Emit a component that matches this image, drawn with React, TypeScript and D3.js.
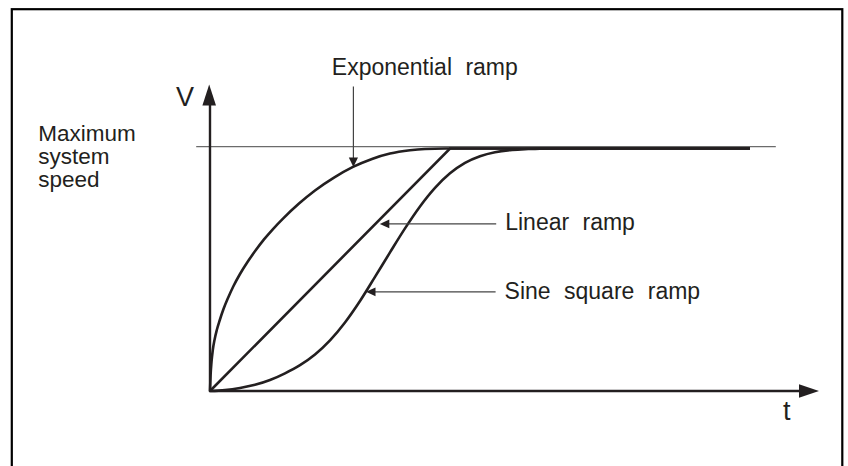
import React from "react";
import * as d3 from "d3";

// time (arbitrary units) and speed (% of maximum system speed)
const linearT = [0, 40, 90];
const linearV = [0, 100, 100];

const expT = [0, 0.1, 0.25, 0.467, 0.75, 1.133, 1.633, 2.25, 3.0, 3.917, 5, 6.25, 7.583, 9, 10.5, 12.167, 14.833, 17.5, 20.667, 23.833, 27, 30, 33.33, 35.83, 39.17, 90];
const expV = [0, 6.6, 11.96, 16.9, 21.03, 25.15, 29.28, 33.8, 38.35, 43.3, 48.25, 53.2, 57.9, 62.5, 66.8, 71.1, 77.3, 82.7, 88.0, 92.4, 95.7, 97.9, 99.26, 99.8, 100, 100];

const sineT = [0, 2.5, 5, 7.5, 10, 12.5, 15, 17.5, 20, 22.5, 25, 27.5, 30, 32.5, 35, 37.5, 40, 42.5, 45, 47.5, 50, 52.5, 55, 58.33, 90];
const sineV = [0, 0.37, 1.24, 2.56, 4.54, 7.3, 10.64, 15.05, 20.87, 28.25, 37.1, 47.05, 57.15, 67.05, 76.1, 83.75, 89.75, 94.06, 96.8, 98.47, 99.34, 99.7, 99.96, 100, 100];

const MAX_V = 100;

// annotation labels: text, arrow tip (t, v), label anchor (t, v)
const annLabels = ["Exponential ramp", "Linear ramp", "Sine square ramp"];
const annTipT = [23.9, 28.3, 26];
const annTipV = [92.4, 68.9, 40.9];
const annLabelT = [20.3, 49.2, 49.1];
const annLabelV = [130.3, 66.4, 37.9];
const annDir = ["down", "left", "left"];

const maxLabel = ["Maximum", "system", "speed"];

const W = 848;
const H = 466;
const INK = "#231f20";
const FONT = "'Liberation Sans', Arial, Helvetica, sans-serif";

export default function App() {
  const x = d3.scaleLinear().domain([0, 100]).range([210, 810]);
  const y = d3.scaleLinear().domain([0, MAX_V]).range([391, 148.5]);

  const line = (ts: number[], vs: number[], curve: d3.CurveFactory) =>
    d3
      .line<number>()
      .x((_, i) => x(ts[i]))
      .y((_, i) => y(vs[i]))
      .curve(curve)(ts) || "";

  const x0 = x(0);
  const y0 = y(0);
  const xEnd = x(101.5);
  const yTop = y(126);

  return (
    <svg
      width={W}
      height={H}
      style={{ position: "absolute", left: 0, top: 0, background: "#fff" }}
      fontFamily={FONT}
    >
      <rect x={0} y={0} width={W} height={H} fill="#fff" />
      {/* frame */}
      <rect x={11.8} y={9.2} width={830.5} height={520} fill="none" stroke="#000" strokeWidth={2.2} />

      {/* maximum speed reference line */}
      <line x1={x(-2.3)} x2={x(94.3)} y1={y(MAX_V) - 1.8} y2={y(MAX_V) - 1.8} stroke="#6b6b6b" strokeWidth={1.3} />

      {/* curves */}
      <path d={line(expT, expV, d3.curveMonotoneX)} fill="none" stroke={INK} strokeWidth={2.6} />
      <path d={line(linearT, linearV, d3.curveLinear)} fill="none" stroke={INK} strokeWidth={2.6} />
      <path d={line(sineT, sineV, d3.curveMonotoneX)} fill="none" stroke={INK} strokeWidth={2.6} />

      {/* axes */}
      <line x1={x0} x2={x0} y1={y0 + 1} y2={yTop + 10} stroke={INK} strokeWidth={2.4} />
      <path d={`M${x0 - 0.8},${yTop - 1} L${x0 + 6},${yTop + 20} L${x0 - 7.6},${yTop + 20} Z`} fill={INK} />
      <line x1={x0 - 1} x2={xEnd - 10} y1={y0} y2={y0} stroke={INK} strokeWidth={2.4} />
      <path d={`M${xEnd},${y0} L${xEnd - 20},${y0 - 6.8} L${xEnd - 20},${y0 + 6.8} Z`} fill={INK} />

      <text x={x0 - 34} y={yTop + 21} fontSize={27} fill={INK}>V</text>
      <text x={xEnd - 36} y={y0 + 29} fontSize={27} fill={INK}>t</text>

      {maxLabel.map((s, i) => (
        <text key={s} x={38.3} y={141 + i * 23} fontSize={22.5} fill={INK}>
          {s}
        </text>
      ))}

      {annLabels.map((lab, i) => {
        const tx = x(annTipT[i]);
        const ty = y(annTipV[i]);
        const lx = x(annLabelT[i]);
        const ly = y(annLabelV[i]);
        let shaft;
        let head;
        if (annDir[i] === "down") {
          shaft = <line x1={tx} x2={tx} y1={ly + 11.5} y2={ty - 8} stroke="#444" strokeWidth={1.2} />;
          head = <path d={`M${tx},${ty} L${tx - 4.6},${ty - 9.5} L${tx + 4.6},${ty - 9.5} Z`} fill={INK} />;
        } else {
          shaft = <line x1={lx - 9} x2={tx + 8} y1={ty} y2={ty} stroke="#444" strokeWidth={1.2} />;
          head = <path d={`M${tx},${ty} L${tx + 9.5},${ty - 4.4} L${tx + 9.5},${ty + 4.4} Z`} fill={INK} />;
        }
        return (
          <g key={lab}>
            {shaft}
            {head}
            <text x={lx} y={ly} fontSize={23} fill={INK} style={{ wordSpacing: "7px" }}>
              {lab}
            </text>
          </g>
        );
      })}
    </svg>
  );
}
